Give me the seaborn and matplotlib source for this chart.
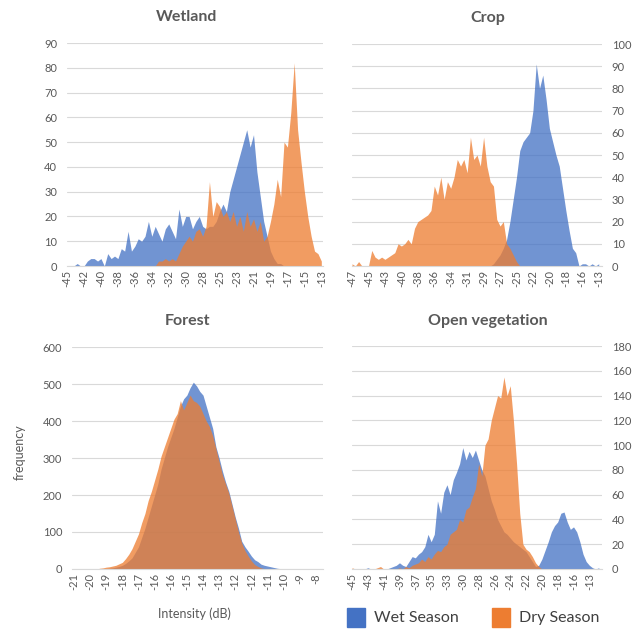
import numpy as np
import matplotlib.pyplot as plt
from matplotlib.patches import Rectangle
import seaborn as sns

# category labels (one label every 5 categories, as in the Excel axis)
wetland_ticks = ['-45', '-42', '-40', '-38', '-36', '-34', '-32', '-30',
                 '-28', '-25', '-23', '-21', '-19', '-17', '-15', '-13']
crop_ticks = ['-47', '-45', '-43', '-40', '-38', '-36', '-34', '-31',
              '-29', '-27', '-25', '-22', '-20', '-18', '-16', '-13']
forest_ticks = ['-21', '-20', '-19', '-18', '-17', '-16', '-16', '-15',
                '-14', '-13', '-12', '-12', '-11', '-10', '-9', '-8']
openveg_ticks = ['-45', '-43', '-41', '-39', '-37', '-35', '-33', '-30',
                 '-28', '-26', '-24', '-22', '-20', '-18', '-16', '-13']

# frequencies (5 values per labelled step)
wetland_wet = [0, 0, 0, 1, 0, 0, 2, 3, 3, 2, 3, 0, 5, 3, 4, 3, 7, 6, 14, 6,
               8, 11, 10, 12, 18, 12, 16, 13, 10, 15, 17, 14, 11, 23, 16, 20, 20, 15, 18, 20,
               16, 15, 16, 16, 18, 22, 25, 22, 30, 35, 40, 45, 50, 55, 48, 53, 38, 28, 18, 12,
               6, 3, 1, 1, 0, 0, 0, 0, 0, 0, 0, 0, 0, 0, 0, 0]
wetland_dry = [0, 0, 0, 0, 0, 0, 0, 0, 0, 0, 0, 0, 0, 0, 0, 0, 0, 0, 0, 0,
               0, 0, 0, 0, 0, 0, 0, 2, 2, 3, 2, 3, 2, 5, 8, 10, 12, 10, 14, 15,
               12, 16, 34, 20, 26, 24, 20, 22, 18, 22, 16, 20, 14, 22, 16, 19, 14, 18, 10, 12,
               18, 25, 35, 28, 50, 48, 62, 82, 55, 42, 30, 20, 12, 6, 5, 2]

crop_wet = [0] * 40 + [0, 0, 0, 1, 3, 5, 8, 12, 20, 30,
                       40, 52, 56, 58, 60, 70, 91, 80, 86, 75,
                       62, 56, 50, 45, 35, 25, 16, 8, 6, 0,
                       1, 1, 0, 1, 0, 1]
crop_dry = [1, 0, 2, 0, 0, 0, 7, 4, 3, 4, 3, 4, 5, 6, 10, 9, 10, 12, 10, 17,
            20, 21, 22, 23, 25, 36, 32, 40, 30, 38, 35, 40, 48, 45, 48, 42, 58, 48, 50, 45,
            58, 45, 38, 36, 21, 18, 20, 10, 8, 5, 2, 0, 0, 0, 0] + [0] * 21

forest_wet = [0, 0, 0, 0, 0, 0, 0, 0, 0, 0, 1, 2, 3, 5, 7, 10, 15, 22, 30, 45,
              60, 85, 110, 140, 170, 200, 230, 270, 300, 330, 355, 380, 410, 440, 460,
              470, 490, 505, 495, 480, 470, 440, 410, 380, 330, 300, 265, 235, 210, 175,
              140, 110, 75, 60, 48, 35, 25, 20, 13, 10, 8, 6, 4, 2, 1,
              0, 0, 0, 0, 0, 0, 0, 0, 0, 0, 0]
forest_dry = [0, 0, 0, 0, 0, 0, 0, 0, 2, 3, 5, 6, 8, 10, 14, 18, 28, 40, 55, 75,
              95, 125, 150, 185, 210, 240, 270, 305, 330, 355, 380, 405, 420, 455, 430,
              450, 470, 455, 450, 440, 420, 400, 385, 360, 325, 290, 255, 230, 205, 170,
              135, 100, 70, 50, 35, 22, 12, 7, 3, 1,
              0, 0, 0, 0, 0, 0, 0, 0, 0, 0, 0, 0, 0, 0, 0, 0]

openveg_wet = [0, 0, 0, 0, 0, 1, 0, 0, 0, 0, 0, 0, 1, 2, 3, 5, 3, 2, 6, 10,
               9, 12, 14, 18, 28, 22, 28, 55, 45, 62, 68, 60, 72, 78, 85, 98, 88, 95, 90, 96,
               88, 80, 75, 65, 55, 48, 40, 35, 30, 28, 25, 22, 20, 18, 16, 14, 10, 6, 2, 3,
               8, 15, 22, 30, 35, 38, 45, 46, 38, 32, 34, 30, 22, 12, 6, 3, 1, 0, 1]
openveg_dry = [1, 0, 0, 0, 0, 0, 0, 0, 1, 2, 0, 0, 0, 0, 0, 1, 0, 2, 1, 3,
               4, 5, 8, 6, 10, 8, 12, 15, 14, 18, 20, 28, 30, 32, 40, 38, 48, 50, 58, 65,
               85, 75, 100, 105, 120, 130, 140, 138, 155, 140, 148, 120, 85, 45, 20,
               16, 14, 10, 5, 2] + [0] * 19

WET = '#4472C4'
DRY = '#ED7D31'
TXT = '#595959'
GRID = '#D9D9D9'

sns.set_theme(style='white')
plt.rcParams['font.family'] = ['Lato', 'DejaVu Sans']

fig = plt.figure(figsize=(6.39, 6.29), dpi=100)


def area_panel(rect, wet, dry, ticks, ymax, ystep, xlim, right=False):
    ax = fig.add_axes(rect)
    for vals, col in ((wet, WET), (dry, DRY)):
        x = np.arange(len(vals))
        ax.fill_between(x, vals, color=col, alpha=0.76, lw=0, zorder=2)
    ax.set_xlim(*xlim)
    ax.set_ylim(0, ymax)
    ax.set_yticks(np.arange(0, ymax + 1, ystep))
    ax.set_xticks(np.arange(len(ticks)) * 5)
    ax.set_xticklabels(ticks, rotation=90)
    ax.grid(axis='y', color=GRID, lw=0.8, zorder=0)
    ax.grid(axis='x', visible=False)
    sns.despine(ax=ax, left=True, right=True, top=True)
    ax.spines['bottom'].set_color(GRID)
    ax.spines['bottom'].set_linewidth(0.8)
    ax.tick_params(axis='both', length=0, labelsize=8, colors=TXT)
    ax.tick_params(axis='x', pad=3)
    ax.tick_params(axis='y', pad=7)
    if right:
        ax.yaxis.tick_right()
    return ax


area_panel([0.1049, 0.5771, 0.4006, 0.3545], wetland_wet, wetland_dry,
           wetland_ticks, 90, 10, (0, 75.5))
area_panel([0.5509, 0.5771, 0.3912, 0.3529], crop_wet, crop_dry,
           crop_ticks, 100, 10, (0, 76), right=True)
area_panel([0.1127, 0.0954, 0.3928, 0.3529], forest_wet, forest_dry,
           forest_ticks, 600, 100, (-0.6, 77.2))
area_panel([0.5509, 0.0954, 0.3912, 0.3545], openveg_wet, openveg_dry,
           openveg_ticks, 180, 20, (0, 79), right=True)

title_kw = dict(ha='center', va='center', fontsize=11.5, fontweight='bold', color=TXT)
fig.text(187 / 639, 1 - 17 / 629, 'Wetland', **title_kw)
fig.text(488 / 639, 1 - 18 / 629, 'Crop', **title_kw)
fig.text(187 / 639, 1 - 321 / 629, 'Forest', **title_kw)
fig.text(488 / 639, 1 - 321 / 629, 'Open vegetation', **title_kw)

fig.text(20 / 639, 1 - 452 / 629, 'frequency', rotation=90, ha='center', va='center',
         fontsize=9, color=TXT)
fig.text(194 / 639, 1 - 614 / 629, 'Intensity (dB)', ha='center', va='center',
         fontsize=9, color=TXT)

# legend
for x0, col, label in ((347, WET, 'Wet Season'), (492, DRY, 'Dry Season')):
    fig.patches.append(Rectangle((x0 / 639, 1 - 627 / 629), 18 / 639, 19 / 629,
                                 transform=fig.transFigure, color=col))
    fig.text((x0 + 27) / 639, 1 - 618 / 629, label, ha='left', va='center',
             fontsize=11.5, color='#404040')

fig.savefig('out.png', dpi=100)
